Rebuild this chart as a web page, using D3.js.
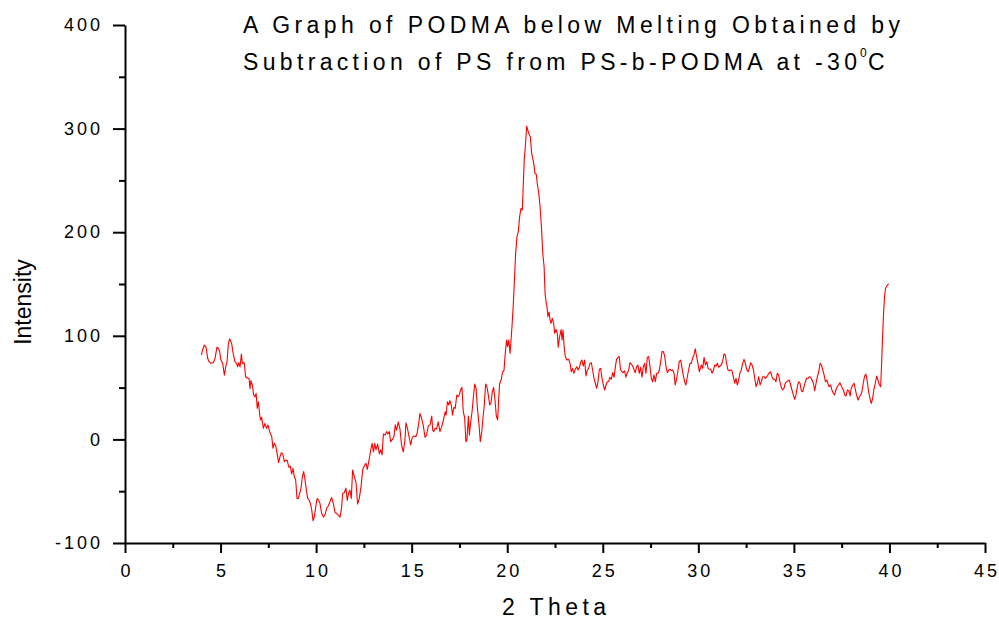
<!DOCTYPE html>
<html>
<head>
<meta charset="utf-8">
<script src="https://cdn.jsdelivr.net/npm/d3@7"></script>
<style>
  html, body { margin: 0; padding: 0; background: #ffffff; }
  svg { display: block; }
</style>
</head>
<body>
<svg id="chart" width="999" height="619"></svg>
<script>
// Diffraction angle (2θ, degrees) and difference intensity, PODMA at -30 °C
const theta = [
  4.00, 4.05, 4.15, 4.24, 4.33, 4.40, 4.50, 4.62, 4.71, 4.81,
  4.88, 4.95, 5.02, 5.11, 5.20, 5.27, 5.34, 5.41, 5.48, 5.58,
  5.66, 5.75, 5.84, 5.89, 5.95, 6.02, 6.09, 6.14, 6.24, 6.31,
  6.42, 6.49, 6.54, 6.59, 6.66, 6.73, 6.80, 6.86, 6.92, 6.98,
  7.05, 7.10, 7.15, 7.24, 7.32, 7.41, 7.48, 7.57, 7.68, 7.74,
  7.81, 7.88, 7.97, 8.04, 8.11, 8.18, 8.25, 8.34, 8.41, 8.49,
  8.58, 8.65, 8.72, 8.79, 8.86, 8.93, 9.00, 9.07, 9.14, 9.21,
  9.28, 9.35, 9.42, 9.49, 9.56, 9.63, 9.70, 9.77, 9.84, 9.91,
  9.98, 10.05, 10.12, 10.20, 10.29, 10.38, 10.46, 10.55, 10.64, 10.73,
  10.81, 10.90, 10.99, 11.07, 11.16, 11.25, 11.33, 11.39, 11.47, 11.56,
  11.63, 11.70, 11.77, 11.84, 11.91, 12.00, 12.09, 12.17, 12.26, 12.35,
  12.44, 12.52, 12.61, 12.68, 12.77, 12.86, 12.93, 13.00, 13.07, 13.13,
  13.22, 13.31, 13.38, 13.45, 13.52, 13.61, 13.69, 13.76, 13.83, 13.90,
  13.99, 14.07, 14.14, 14.21, 14.30, 14.39, 14.47, 14.56, 14.65, 14.70,
  14.79, 14.88, 14.95, 15.03, 15.12, 15.22, 15.29, 15.38, 15.43, 15.52,
  15.61, 15.70, 15.78, 15.87, 15.96, 16.05, 16.10, 16.16, 16.23, 16.30,
  16.39, 16.48, 16.57, 16.66, 16.75, 16.80, 16.87, 16.94, 17.00, 17.07,
  17.14, 17.21, 17.28, 17.36, 17.43, 17.49, 17.56, 17.63, 17.70, 17.77,
  17.84, 17.89, 17.97, 18.02, 18.09, 18.16, 18.23, 18.30, 18.37, 18.44,
  18.49, 18.54, 18.59, 18.66, 18.73, 18.80, 18.87, 18.94, 19.01, 19.08,
  19.15, 19.22, 19.29, 19.36, 19.43, 19.50, 19.55, 19.60, 19.69, 19.76,
  19.83, 19.90, 19.97, 20.02, 20.08, 20.15, 20.20, 20.26, 20.32, 20.37,
  20.44, 20.51, 20.58, 20.65, 20.72, 20.79, 20.84, 20.89, 20.96, 21.02,
  21.08, 21.16, 21.21, 21.28, 21.34, 21.40, 21.45, 21.52, 21.57, 21.65,
  21.72, 21.79, 21.86, 21.93, 21.98, 22.03, 22.08, 22.13, 22.19, 22.24,
  22.29, 22.36, 22.43, 22.48, 22.55, 22.62, 22.67, 22.74, 22.82, 22.87,
  22.92, 22.98, 23.04, 23.12, 23.21, 23.29, 23.35, 23.42, 23.49, 23.56,
  23.64, 23.71, 23.78, 23.85, 23.91, 23.98, 24.05, 24.12, 24.19, 24.26,
  24.33, 24.40, 24.47, 24.54, 24.61, 24.68, 24.75, 24.82, 24.89, 24.96,
  25.03, 25.10, 25.17, 25.24, 25.31, 25.37, 25.44, 25.52, 25.59, 25.66,
  25.72, 25.79, 25.86, 25.93, 26.00, 26.07, 26.14, 26.21, 26.28, 26.35,
  26.42, 26.49, 26.56, 26.63, 26.70, 26.77, 26.84, 26.91, 26.98, 27.05,
  27.12, 27.19, 27.26, 27.33, 27.40, 27.47, 27.54, 27.61, 27.68, 27.75,
  27.82, 27.89, 27.96, 28.03, 28.10, 28.17, 28.24, 28.31, 28.38, 28.45,
  28.52, 28.59, 28.66, 28.73, 28.79, 28.87, 28.94, 29.00, 29.08, 29.15,
  29.21, 29.28, 29.35, 29.42, 29.49, 29.56, 29.63, 29.70, 29.77, 29.84,
  29.91, 29.98, 30.05, 30.16, 30.23, 30.30, 30.37, 30.44, 30.51, 30.58,
  30.65, 30.72, 30.79, 30.86, 30.93, 31.00, 31.06, 31.13, 31.20, 31.27,
  31.34, 31.41, 31.48, 31.55, 31.62, 31.69, 31.76, 31.83, 31.90, 31.97,
  32.04, 32.11, 32.18, 32.25, 32.32, 32.39, 32.46, 32.53, 32.60, 32.67,
  32.74, 32.81, 32.88, 32.95, 33.02, 33.09, 33.16, 33.23, 33.30, 33.37,
  33.44, 33.51, 33.58, 33.64, 33.71, 33.78, 33.85, 33.92, 33.99, 34.06,
  34.13, 34.20, 34.27, 34.34, 34.41, 34.48, 34.55, 34.62, 34.69, 34.76,
  34.83, 34.90, 34.97, 35.04, 35.11, 35.18, 35.25, 35.32, 35.39, 35.46,
  35.53, 35.60, 35.67, 35.74, 35.81, 35.88, 35.95, 36.02, 36.09, 36.16,
  36.23, 36.30, 36.37, 36.44, 36.51, 36.58, 36.65, 36.72, 36.79, 36.85,
  36.92, 36.99, 37.06, 37.13, 37.20, 37.27, 37.34, 37.41, 37.50, 37.59,
  37.66, 37.73, 37.80, 37.87, 37.94, 38.00, 38.08, 38.15, 38.22, 38.29,
  38.36, 38.43, 38.50, 38.56, 38.63, 38.70, 38.77, 38.84, 38.91, 38.98,
  39.05, 39.12, 39.19, 39.26, 39.33, 39.40, 39.47, 39.54, 39.59, 39.64,
  39.70, 39.75, 39.80, 39.89, 39.96
];

const intensity = [
  81.5, 85.6, 91, 89, 78, 75, 73.5, 74, 78, 89,
  88, 85, 76.6, 73.4, 62, 70, 75, 92.7, 97, 92.7,
  83, 75, 73.4, 70, 74, 70, 82.4, 73.4, 74, 60.5,
  59, 59, 49, 56.7, 52.5, 43, 41, 44.5, 30, 36.4,
  23.5, 18.7, 21.3, 10.7, 15.5, 10.7, 14, 7.5, 2.6, -8.6,
  -3.8, -5.4, -15, -22.5, -16.7, -12.8, -14, -21.5, -20, -20.5,
  -27, -25.7, -33.4, -28, -36, -39, -57, -57, -52, -47,
  -36, -31, -39, -49, -57, -58.5, -61.7, -68, -78.5, -74.6,
  -65, -57, -58.5, -61.7, -71.3, -75, -73, -66.5, -64, -60,
  -56, -61.7, -70.7, -71.3, -73, -75, -66.5, -52, -51.5, -47,
  -59, -52, -49, -57, -29.5, -36, -42, -62.4, -57, -45.6,
  -29, -25.7, -23, -29, -20, -10, -3.8, -12, -3.8, -10,
  -4.5, -14, -10, -15, 5.2, 4.3, 7.5, 5.2, 7.5, -2.2,
  0, 2.6, 14, 9, 17, 9.7, -5.4, -12, -0.6, 16,
  9.7, 1, -5.4, 2, 3.3, 2.6, 6.5, 17, 25, 20.4,
  13, 2, 4.2, 13, 14, 22.6, 9, 7.5, 10.7, 10,
  17, 7.5, 12.3, 18.7, 26.7, 23.5, 36.4, 33.2, 37.4, 33.2,
  23.5, 31, 30, 42.9, 41.2, 42.9, 47.7, 50.3, 26.7, 21.3,
  -2.2, -0.6, 22.6, 4.2, 17, 26.7, 41.2, 53.5, 49.3, 30,
  21.3, 10.7, -2.2, 5.9, 20.4, 33.2, 53.5, 50.9, 42.9, 33.2,
  35.4, 46, 50.3, 38, 22.6, 18.7, 38, 53.5, 58, 65.3,
  66.3, 84, 96, 89.5, 96, 83, 96, 112, 131, 150.7,
  179.6, 195.7, 200.5, 215, 223, 221.4, 245.6, 269.7, 285.8, 302.5,
  298, 293.8, 292, 276, 271, 264.9, 256.8, 256, 247.2, 237.5,
  224.6, 205.3, 179.6, 166.7, 141, 133, 128, 118.4, 123, 115.2,
  112, 117, 112, 102.4, 106.3, 102.4, 89, 99, 106, 96,
  105.6, 89, 80, 76.6, 77.3, 73.4, 65.3, 68.6, 63.8, 67.7,
  70.2, 67, 69.6, 75, 76.6, 70.8, 76.6, 61.2, 67, 68.6,
  73.4, 74, 67, 59, 54.2, 49.3, 55.7, 67.7, 68.6, 59,
  52.5, 47.7, 52.5, 55.7, 55.7, 60, 58, 64.4, 60, 70.2,
  77.3, 79.2, 80, 67, 65.3, 64.4, 66.3, 60, 64.4, 66.3,
  74, 72.8, 70.8, 67.7, 64.4, 70.2, 71.8, 63.8, 69.6, 60,
  70.2, 73.4, 63.8, 79.2, 80, 70.2, 59, 55.7, 62.2, 55.7,
  63.8, 63.8, 67, 75, 84.7, 84.7, 80.5, 70.2, 64.4, 67,
  67.7, 66.3, 67, 63.8, 52.5, 59, 67, 75, 76.6, 68.6,
  62.2, 55.7, 52.5, 60, 67, 73.4, 73.4, 78.3, 81.5, 87.5,
  80, 73.4, 65.3, 71.8, 68.6, 79.2, 71.8, 75, 68.6, 67.7,
  67.7, 63.8, 67, 71.8, 70.8, 73.4, 69.6, 70.8, 71.8, 75,
  82.4, 81.5, 73.4, 67, 66.3, 67, 66.3, 60.5, 54.2, 59,
  52.5, 57.3, 64.4, 67, 73.4, 77.3, 73.4, 67.7, 65.3, 68.6,
  74, 71.8, 67.7, 59, 50.9, 54.2, 60.5, 52.5, 55.7, 60.5,
  60.5, 59, 60.5, 62.2, 64.4, 65.3, 60.5, 58, 58, 55.7,
  63.8, 62.2, 55.7, 50.3, 47.7, 49.3, 54.2, 55.7, 56.7, 57.3,
  52.5, 47.7, 42.9, 38.7, 42.9, 50.9, 55.7, 54.2, 47, 46,
  50.9, 55.7, 59, 59, 60.5, 60, 57.3, 54.2, 47, 54.2,
  60.5, 65.3, 73.4, 71.8, 67, 62.2, 55.7, 57.3, 53.5, 50.9,
  52.5, 47.7, 44.5, 42.9, 47.7, 50.9, 52.5, 54.7, 50.9, 47.7,
  42.9, 41.9, 47.7, 47, 41.9, 49.3, 52.5, 54.2, 47.7, 41.9,
  38, 41.2, 42.9, 46, 54.2, 61.2, 63.1, 55.7, 46, 39.7,
  34.8, 39.7, 48.4, 54.2, 61.2, 57.3, 52.5, 50.9, 73.4, 99,
  125, 139.4, 145.9, 149, 150
];

// Axis ticks
const xTicks = [0, 5, 10, 15, 20, 25, 30, 35, 40, 45];
const xMinorTicks = [2.5, 7.5, 12.5, 17.5, 22.5, 27.5, 32.5, 37.5, 42.5];
const yTicks = [-100, 0, 100, 200, 300, 400];
const yMinorTicks = [-50, 50, 150, 250, 350];

// Text
const titleLine1 = "A Graph of PODMA below Melting Obtained by";
const titleLine2 = "Subtraction of PS from PS-b-PODMA at -30";
const titleSup = "0";
const titleUnit = "C";
const xLabel = "2 Theta";
const yLabel = "Intensity";

const FONT = "'Liberation Sans', Arial, Helvetica, sans-serif";
const plainNumber = d => String(d);   // ASCII hyphen for negatives

const svg = d3.select("#chart");

const x = d3.scaleLinear().domain([0, 45]).range([125, 985]);
const y = d3.scaleLinear().domain([-100, 400]).range([543, 25]);

// Curve
const points = theta.map((t, i) => [t, intensity[i]]);
svg.append("path")
  .datum(points)
  .attr("fill", "none")
  .attr("stroke", "#ff0000")
  .attr("stroke-width", 1.1)
  .attr("stroke-linejoin", "round")
  .attr("d", d3.line().x(d => x(d[0])).y(d => y(d[1])));

function styleAxis(g) {
  g.select(".domain").attr("stroke", "#000").attr("stroke-width", 2);
  g.selectAll(".tick line").attr("stroke", "#000").attr("stroke-width", 2);
  g.selectAll(".tick text")
    .attr("fill", "#000")
    .style("font-family", FONT)
    .style("font-size", "18px")
    .style("letter-spacing", "3px");
}

// X axis: minor then major ticks
svg.append("g")
  .attr("transform", `translate(0,${y(-100)})`)
  .call(d3.axisBottom(x).tickValues(xMinorTicks).tickSize(5).tickSizeOuter(0).tickFormat(""))
  .call(g => { g.select(".domain").remove(); g.selectAll(".tick line").attr("stroke", "#000").attr("stroke-width", 2); });

svg.append("g")
  .attr("transform", `translate(0,${y(-100)})`)
  .call(d3.axisBottom(x).tickValues(xTicks).tickSize(10).tickSizeOuter(0).tickPadding(11).tickFormat(plainNumber))
  .call(styleAxis)
  .call(g => g.selectAll(".tick text").attr("dx", "1.5px"));

// Y axis: minor then major ticks
svg.append("g")
  .attr("transform", `translate(${x(0)},0)`)
  .call(d3.axisLeft(y).tickValues(yMinorTicks).tickSize(6).tickSizeOuter(0).tickFormat(""))
  .call(g => { g.select(".domain").remove(); g.selectAll(".tick line").attr("stroke", "#000").attr("stroke-width", 2); });

svg.append("g")
  .attr("transform", `translate(${x(0)},0)`)
  .call(d3.axisLeft(y).tickValues(yTicks).tickSize(12).tickSizeOuter(0).tickPadding(10).tickFormat(plainNumber))
  .call(styleAxis);

// Title
svg.append("text")
  .attr("x", 243).attr("y", 33)
  .attr("textLength", 657).attr("lengthAdjust", "spacing")
  .style("font-family", FONT).style("font-size", "23px").attr("fill", "#000")
  .text(titleLine1);

svg.append("text")
  .attr("x", 243).attr("y", 70)
  .attr("textLength", 614).attr("lengthAdjust", "spacing")
  .style("font-family", FONT).style("font-size", "23px").attr("fill", "#000")
  .text(titleLine2);

svg.append("text")
  .attr("x", 860).attr("y", 57)
  .style("font-family", FONT).style("font-size", "12px").attr("fill", "#000")
  .text(titleSup);

svg.append("text")
  .attr("x", 868).attr("y", 70)
  .style("font-family", FONT).style("font-size", "23px").attr("fill", "#000")
  .text(titleUnit);

// Axis titles
svg.append("text")
  .attr("x", 502).attr("y", 615)
  .attr("textLength", 104).attr("lengthAdjust", "spacing")
  .style("font-family", FONT).style("font-size", "23px").attr("fill", "#000")
  .text(xLabel);

svg.append("text")
  .attr("transform", "translate(31,302) rotate(-90)")
  .attr("text-anchor", "middle")
  .style("font-family", FONT).style("font-size", "23px").attr("fill", "#000")
  .text(yLabel);
</script>
</body>
</html>
